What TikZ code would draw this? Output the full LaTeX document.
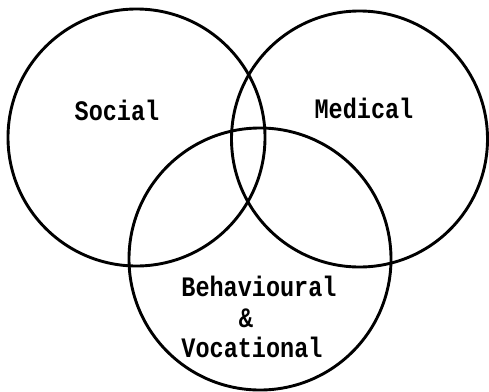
\documentclass[tikz,border=0pt]{standalone}
\usepackage{fontspec}
\usepackage{graphicx}
\setmonofont{Liberation Mono}
\begin{document}
\begin{tikzpicture}[x=1pt,y=-1pt,
  ring/.style={draw=black,line width=2.9pt},
  lbl/.style={font=\ttfamily\bfseries\fontsize{23.5}{28}\selectfont,inner sep=0pt,anchor=center}]
\useasboundingbox (0,0) rectangle (489,391);
\draw[ring] (136.5,137.5) circle[radius=128.5] node (soc) {};
\draw[ring] (359.5,139) circle[radius=128] node (med) {};
\draw[ring] (260,259) circle[radius=131] node (beh) {};
\node[lbl] (tsoc) at (117,110) {\scalebox{1}[1.2]{Social}};
\node[lbl] (tmed) at (364,108) {\scalebox{1}[1.2]{Medical}};
\node[lbl] (tb1) at (259,286) {\scalebox{1}[1.2]{Behavioural}};
\node[lbl] (tb2) at (246,318) {\scalebox{1}[1.2]{\&}};
\node[lbl] (tb3) at (252,347) {\scalebox{1}[1.2]{Vocational}};
\end{tikzpicture}
\end{document}
